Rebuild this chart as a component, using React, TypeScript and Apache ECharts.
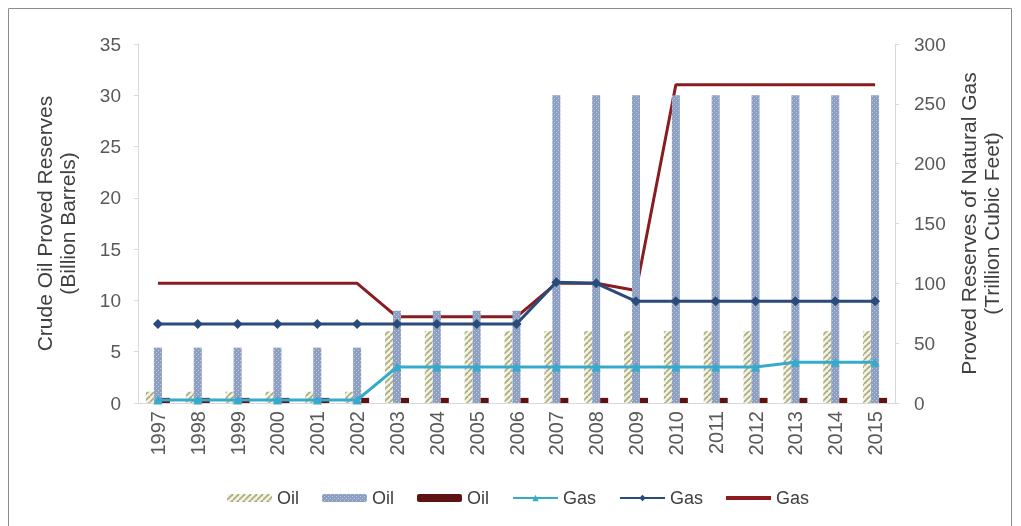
import React, { useEffect, useRef } from "react";
import * as echarts from "echarts";

const years = ["1997","1998","1999","2000","2001","2002","2003","2004","2005","2006","2007","2008","2009","2010","2011","2012","2013","2014","2015"];
const oilHatched = [1.1,1.1,1.1,1.1,1.1,1.1,7,7,7,7,7,7,7,7,7,7,7,7,7];
const oilDotted = [5.4,5.4,5.4,5.4,5.4,5.4,9,9,9,9,30,30,30,30,30,30,30,30,30];
const oilDark = [0.5,0.5,0.5,0.5,0.5,0.5,0.5,0.5,0.5,0.5,0.5,0.5,0.5,0.5,0.5,0.5,0.5,0.5,0.5];
const gasCyan = [2.5,2.5,2.5,2.5,2.5,2.5,30,30,30,30,30,30,30,30,30,30,34,34,34];
const gasNavy = [66,66,66,66,66,66,66,66,66,66,101,100,85,85,85,85,85,85,85];
const gasRed = [100,100,100,100,100,100,72,72,72,72,100,100,94,266,266,266,266,266,266];
const legendNames = ["Oil", "Oil ", "Oil  ", "Gas", "Gas ", "Gas  "];

function hatchPattern() {
  const c = document.createElement("canvas");
  c.width = 6; c.height = 6;
  const g = c.getContext("2d")!;
  g.fillStyle = "#f3f3e6";
  g.fillRect(0, 0, 6, 6);
  g.strokeStyle = "#adad80";
  g.lineWidth = 1.8;
  for (const o of [-6, 0, 6]) {
    g.beginPath();
    g.moveTo(o, 6);
    g.lineTo(o + 6, 0);
    g.stroke();
  }
  return { image: c, repeat: "repeat" } as any;
}

function dotPattern() {
  const c = document.createElement("canvas");
  c.width = 4; c.height = 4;
  const g = c.getContext("2d")!;
  g.fillStyle = "#8d9fc0";
  g.fillRect(0, 0, 4, 4);
  g.fillStyle = "#c3cde0";
  g.fillRect(0, 0, 1, 1);
  g.fillRect(2, 2, 1, 1);
  return { image: c, repeat: "repeat" } as any;
}

export default function App() {
  const ref = useRef<HTMLDivElement>(null);
  useEffect(() => {
    const chart = echarts.init(ref.current!, null, { renderer: "svg" });
    const font = "'Liberation Sans', Arial, sans-serif";
    const txt = "#595959";
    chart.setOption({
      animation: false,
      textStyle: { fontFamily: font },
      graphic: [
        {
          type: "rect",
          shape: { x: 8.5, y: 8.5, width: 1003, height: 530 },
          style: { fill: "none", stroke: "#8c8c8c", lineWidth: 1 },
          silent: true,
        },
      ],
      grid: { left: 138, right: 126, top: 44, bottom: 123 },
      legend: {
        bottom: 14,
        left: 222,
        itemWidth: 45,
        itemHeight: 8,
        itemGap: 23,
        textStyle: { color: "#404040", fontSize: 18, fontFamily: font },
        data: legendNames.map((n, i) =>
          i === 5 ? { name: n, icon: "path://M0,0H45V4H0Z" } : { name: n }
        ),
        formatter: (n: string) => n.trim(),
      },
      xAxis: {
        type: "category",
        data: years,
        axisLine: { lineStyle: { color: "#d9d9d9" } },
        axisTick: { show: false },
        axisLabel: { rotate: 90, color: txt, fontSize: 20, margin: 8 },
      },
      yAxis: [
        {
          type: "value",
          min: 0,
          max: 35,
          interval: 5,
          name: "Crude Oil Proved Reserves\n(Billion Barrels)",
          nameLocation: "middle",
          nameRotate: 90,
          nameGap: 59,
          nameTextStyle: { color: "#404040", fontSize: 21, lineHeight: 23 },
          axisLine: { show: true, lineStyle: { color: "#d9d9d9" } },
          axisTick: { show: true, length: 4, lineStyle: { color: "#d9d9d9" } },
          axisLabel: { color: txt, fontSize: 19, margin: 17 },
          splitLine: { show: false },
        },
        {
          type: "value",
          min: 0,
          max: 300,
          interval: 50,
          name: "Proved Reserves of Natural Gas\n(Trillion Cubic Feet)",
          nameLocation: "middle",
          nameRotate: 90,
          nameGap: 62,
          nameTextStyle: { color: "#404040", fontSize: 21, lineHeight: 23 },
          axisLine: { show: true, lineStyle: { color: "#d9d9d9" } },
          axisTick: { show: true, length: 4, lineStyle: { color: "#d9d9d9" } },
          axisLabel: { color: txt, fontSize: 19, margin: 19 },
          splitLine: { show: false },
        },
      ],
      series: [
        {
          name: legendNames[0],
          type: "bar",
          data: oilHatched,
          barWidth: 8,
          barGap: "0%",
          itemStyle: { color: hatchPattern() },
        },
        {
          name: legendNames[1],
          type: "bar",
          data: oilDotted,
          barWidth: 8,
          barGap: "0%",
          itemStyle: { color: dotPattern() },
        },
        {
          name: legendNames[2],
          type: "bar",
          data: oilDark,
          barWidth: 8,
          barGap: "0%",
          itemStyle: { color: "#5e1212" },
        },
        {
          name: legendNames[3],
          type: "line",
          yAxisIndex: 1,
          data: gasCyan,
          symbol: "triangle",
          symbolSize: 9,
          lineStyle: { color: "#36aacb", width: 3 },
          itemStyle: { color: "#36aacb" },
        },
        {
          name: legendNames[4],
          type: "line",
          yAxisIndex: 1,
          data: gasNavy,
          symbol: "diamond",
          symbolSize: 10,
          lineStyle: { color: "#2a4a7b", width: 3 },
          itemStyle: { color: "#2a4a7b" },
        },
        {
          name: legendNames[5],
          type: "line",
          yAxisIndex: 1,
          data: gasRed,
          symbol: "none",
          lineStyle: { color: "#8a1c1f", width: 3 },
          itemStyle: { color: "#8a1c1f" },
          z: 1,
        },
      ],
    });
    return () => chart.dispose();
  }, []);
  return (
    <div
      ref={ref}
      style={{ position: "fixed", left: 0, top: 0, width: 1021, height: 526 }}
    />
  );
}
